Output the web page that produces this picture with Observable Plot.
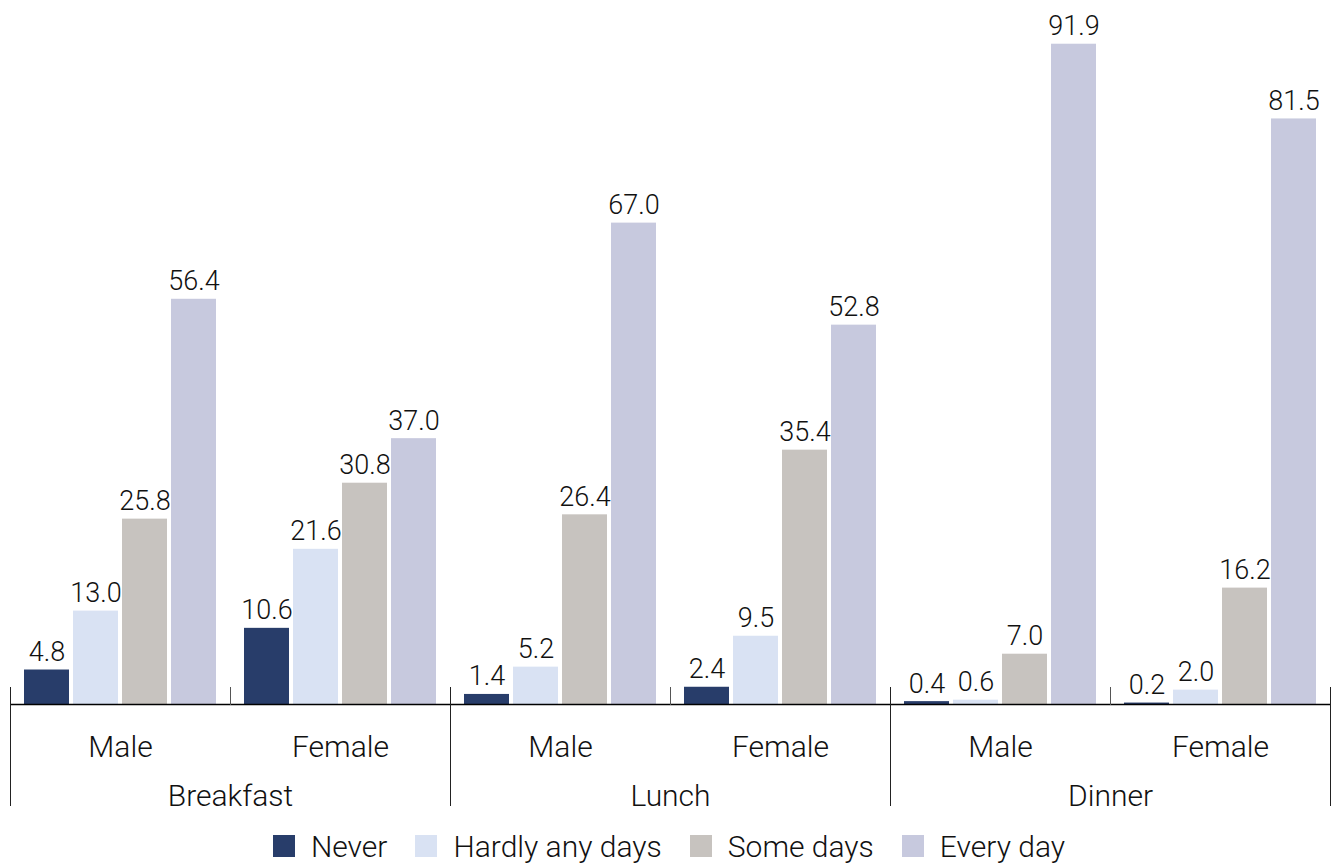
<!DOCTYPE html>
<html><head><meta charset="utf-8">
<script src="https://cdn.jsdelivr.net/npm/d3@7"></script>
<script src="https://cdn.jsdelivr.net/npm/@observablehq/plot@0.6"></script>
<style>
body{margin:0;background:#fff;}
#legend{display:flex;justify-content:center;align-items:center;font-family:Roboto,"Liberation Sans",sans-serif;font-size:30px;font-weight:300;color:#111;height:34px;margin-top:9px;}
.item{display:flex;align-items:center;margin:0 14px;}
.sw{width:22px;height:22px;display:inline-block;margin-right:16px;}
</style></head><body><div id="chart"></div><div id="legend"></div>
<script>
const meals = ["Breakfast", "Lunch", "Dinner"];
const genders = ["Male", "Female"];
const series = ["Never", "Hardly any days", "Some days", "Every day"];
const colors = ["#283d6a", "#d9e2f3", "#c7c3bf", "#c7c9de"];
// values per group: Breakfast M, Breakfast F, Lunch M, Lunch F, Dinner M, Dinner F
const never = [4.8, 10.6, 1.4, 2.4, 0.4, 0.2];
const hardly = [13.0, 21.6, 5.2, 9.5, 0.6, 2.0];
const some = [25.8, 30.8, 26.4, 35.4, 7.0, 16.2];
const every = [56.4, 37.0, 67.0, 52.8, 91.9, 81.5];

const seriesValues = [never, hardly, some, every];
const groups = meals.flatMap(m => genders.map(g => `${m}|${g}`));
const data = [];
seriesValues.forEach((vals, s) => vals.forEach((v, i) => data.push({group: groups[i], series: series[s], value: v})));

const font = "Roboto, 'Liberation Sans', sans-serif";
const lineStyle = {stroke: "#222", strokeWidth: 1};
const chart = Plot.plot({
  width: 1338, height: 820,
  marginLeft: 8, marginRight: 6, marginTop: 43, marginBottom: 116,
  style: {fontFamily: font, fontSize: "30px", fontWeight: 300, color: "#111", background: "white", overflow: "visible"},
  fx: {domain: groups, padding: 0, label: null, tickFormat: d => d.split("|")[1], tickSize: 0, tickPadding: 31},
  x: {domain: series, paddingInner: 0.0909, paddingOuter: 0.2727, axis: null},
  y: {domain: [0, 92], axis: null},
  color: {domain: series, range: colors},
  marks: [
    Plot.barY(data, {fx: "group", x: "series", y: "value", fill: "series"}),
    Plot.text(data, {fx: "group", x: "series", y: "value", text: d => d.value.toFixed(1), lineAnchor: "bottom", dy: -9, fill: "#111", fontSize: 27}),
    Plot.ruleY([0], {stroke: "#000", strokeWidth: 1.6}),
    Plot.text(meals, {fx: d => d + "|Male", text: d => d, frameAnchor: "bottom-right", textAnchor: "middle", lineAnchor: "bottom", dy: 101, fill: "#111"}),
    ...meals.map(m => Plot.frame({fx: () => m + "|Male", anchor: "right", insetTop: 644, ...lineStyle, stroke: "#555"})),
    ...meals.map(m => Plot.frame({fx: () => m + "|Male", anchor: "left", insetTop: 644, insetBottom: -101, ...lineStyle})),
    Plot.frame({fx: () => meals[meals.length - 1] + "|Female", anchor: "right", insetTop: 644, insetBottom: -101, ...lineStyle})
  ]
});
document.getElementById("chart").append(chart);
const legend = document.getElementById("legend");
series.forEach((s, i) => {
  const it = document.createElement("div");
  it.className = "item";
  it.innerHTML = `<span class="sw" style="background:${colors[i]}"></span><span>${s}</span>`;
  legend.append(it);
});
</script></body></html>
